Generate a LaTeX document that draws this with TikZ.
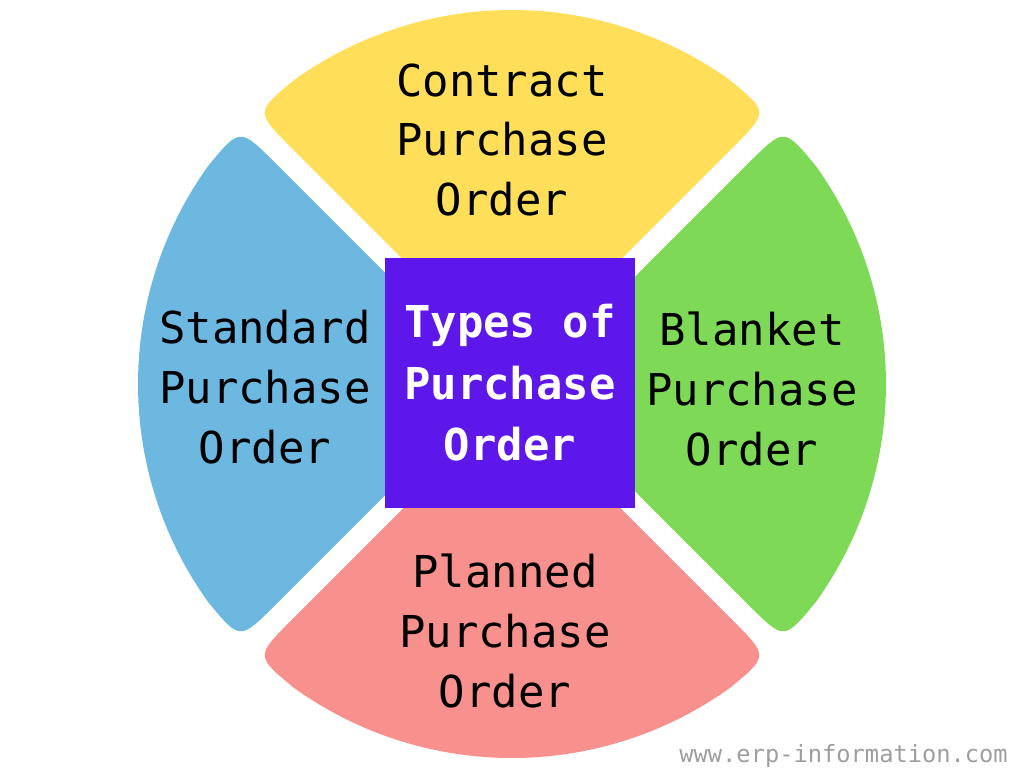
\documentclass[tikz,border=0pt]{standalone}
\usepackage{fontspec}
\setmonofont{DejaVu Sans Mono}
\definecolor{petalyellow}{HTML}{FFDE59}
\definecolor{petalblue}{HTML}{6CB8E1}
\definecolor{petalgreen}{HTML}{7ED957}
\definecolor{petalred}{HTML}{F8908D}
\definecolor{centerpurple}{HTML}{5E17EB}
\tikzset{
	label text/.style={font=\ttfamily\fontsize{25}{34}\selectfont, align=center, text=black},
	center box/.style={fill=centerpurple, minimum width=5cm, minimum height=5cm, inner sep=0pt,
		font=\ttfamily\bfseries\fontsize{25}{35}\selectfont, align=center, text=white}
}
\begin{document}
\begin{tikzpicture}[x=0.02cm,y=0.02cm]
		\useasboundingbox (-512,-384) rectangle (512,384);
		
		% the four petals of the circle
		\foreach \ang/\col in {0/petalgreen, 90/petalyellow, 180/petalblue, 270/petalred}
			\fill[\col, rotate=\ang] (15.6,0) -- (236.8,221.1) .. controls (43.3:374) .. (35.64:374)
				arc[start angle=35.64, end angle=-35.64, radius=374]
				.. controls (-43.3:374) .. (236.8,-221.1) -- cycle;
		
		\node[center box] (types) at (-2,1) {Types of\\Purchase\\Order};
		
		\node[label text] (contract) at (-10,244) {Contract\\Purchase\\Order};
		\node[label text] (standard) at (-247,-3) {Standard\\Purchase\\Order};
		\node[label text] (blanket) at (240,-5) {Blanket\\Purchase\\Order};
		\node[label text] (planned) at (-7,-247) {Planned\\Purchase\\Order};
		
		\node[anchor=base east, font=\ttfamily\fontsize{13.5}{16}\selectfont, text=black!38] (web) at (502,-378) {www.erp-information.com};
		\end{tikzpicture}
\end{document}
